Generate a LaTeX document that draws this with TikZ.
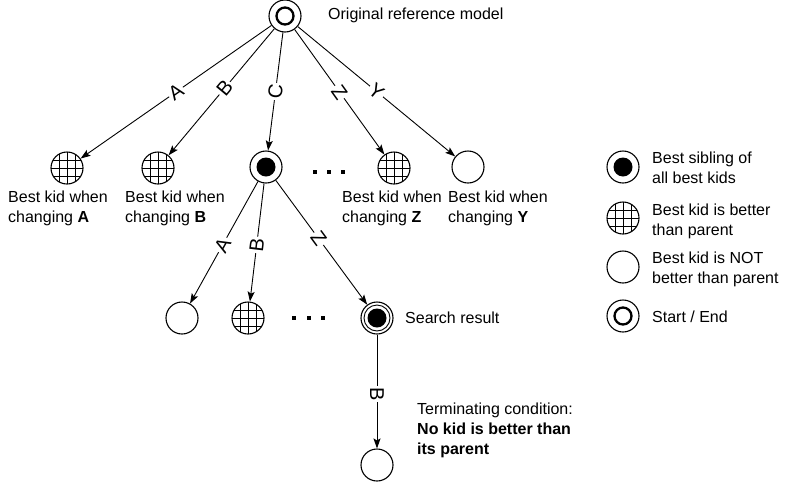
\documentclass[tikz,border=0pt]{standalone}
\usepackage{fontspec}
\setmainfont{Liberation Sans}
\usetikzlibrary{arrows.meta}
\begin{document}
\begin{tikzpicture}[x=1pt,y=-1pt,
  every node/.style={font=\fontsize{16}{20}\selectfont},
  state/.style={circle, draw, line width=1.1pt, minimum size=32pt, inner sep=0pt},
  plainkid/.style={state},
  gridkid/.style={state, path picture={
     \foreach \d in {-8,0,8}{
       \draw[line width=0.9pt] ([xshift=\d pt]path picture bounding box.north) -- ([xshift=\d pt]path picture bounding box.south);
       \draw[line width=0.9pt] ([yshift=\d pt]path picture bounding box.west) -- ([yshift=\d pt]path picture bounding box.east);}}},
  bestkid/.style={state, path picture={\fill (path picture bounding box.center) circle (9.5pt);}},
  resultkid/.style={state, path picture={
     \draw[line width=0.9pt] (path picture bounding box.center) circle (13pt);
     \fill (path picture bounding box.center) circle (9.5pt);}},
  startend/.style={state, path picture={\draw[line width=2.3pt] (path picture bounding box.center) circle (8.5pt);}},
  link/.style={line width=0.9pt, -{Stealth[length=10pt,width=7pt,inset=2pt]}},
  letter/.style={fill=white, sloped, inner sep=1.5pt, font=\fontsize{20}{22}\selectfont},
  caption/.style={anchor=north west, align=left, inner sep=0pt},
  dotmark/.style={fill, minimum size=4pt, inner sep=0pt}
]
% canvas
\useasboundingbox (0,0) rectangle (788,491);

% search tree
\node[startend] (root) at (285,16) {};
\node[anchor=west, inner sep=0pt] (rootlbl) at (328,15) {Original reference model};

\node[gridkid]  (a1) at (67,168) {};
\node[gridkid]  (b1) at (158,168) {};
\node[bestkid]  (c1) at (266,167) {};
\node[gridkid]  (z1) at (394,168) {};
\node[plainkid] (y1) at (468,167) {};

\node[dotmark] (d11) at (315,172) {};
\node[dotmark] (d12) at (329,172) {};
\node[dotmark] (d13) at (343,172) {};

\node[caption] (a1lbl) at (8,191)   {Best kid when\\changing \textbf{A}};
\node[caption] (b1lbl) at (125,191) {Best kid when\\changing \textbf{B}};
\node[caption] (z1lbl) at (342,191) {Best kid when\\changing \textbf{Z}};
\node[caption] (y1lbl) at (448,191) {Best kid when\\changing \textbf{Y}};

\draw[link] (root) -- node[letter, pos=0.5]  {A} (a1);
\draw[link] (root) -- node[letter, pos=0.47] {B} (b1);
\draw[link] (root) -- node[letter, pos=0.5]  {C} (c1);
\draw[link] (root) -- node[letter, pos=0.5]  {Z} (z1);
\draw[link] (root) -- node[letter, pos=0.5]  {Y} (y1);

\node[plainkid]  (a2) at (182,318) {};
\node[gridkid]   (b2) at (248,318) {};
\node[resultkid] (res) at (377,318) {};

\node[dotmark] (d21) at (294,318) {};
\node[dotmark] (d22) at (309,318) {};
\node[dotmark] (d23) at (323,318) {};

\node[anchor=west, inner sep=0pt] (reslbl) at (405,318) {Search result};

\draw[link] (c1) -- node[letter, pos=0.52] {A} (a2);
\draw[link] (c1) -- node[letter, pos=0.52] {B} (b2);
\draw[link] (c1) -- node[letter, pos=0.47] {Z} (res);

\node[plainkid] (fin) at (377,465) {};
\draw[link] (res) -- node[letter, pos=0.52] {B} (fin);

\node[caption] (termlbl) at (417,403) {Terminating condition:\\\textbf{No kid is better than}\\\textbf{its parent}};

% legend
\node[bestkid]  (k1) at (623,167) {};
\node[gridkid]  (k2) at (623,218) {};
\node[plainkid] (k3) at (623,267) {};
\node[startend] (k4) at (623,316) {};

\node[caption] (k1lbl) at (652,152) {Best sibling of\\all best kids};
\node[caption] (k2lbl) at (652,204) {Best kid is better\\than parent};
\node[caption] (k3lbl) at (652,252) {Best kid is NOT\\better than parent};
\node[anchor=west, inner sep=0pt] (k4lbl) at (652,317) {Start / End};
\end{tikzpicture}
\end{document}
